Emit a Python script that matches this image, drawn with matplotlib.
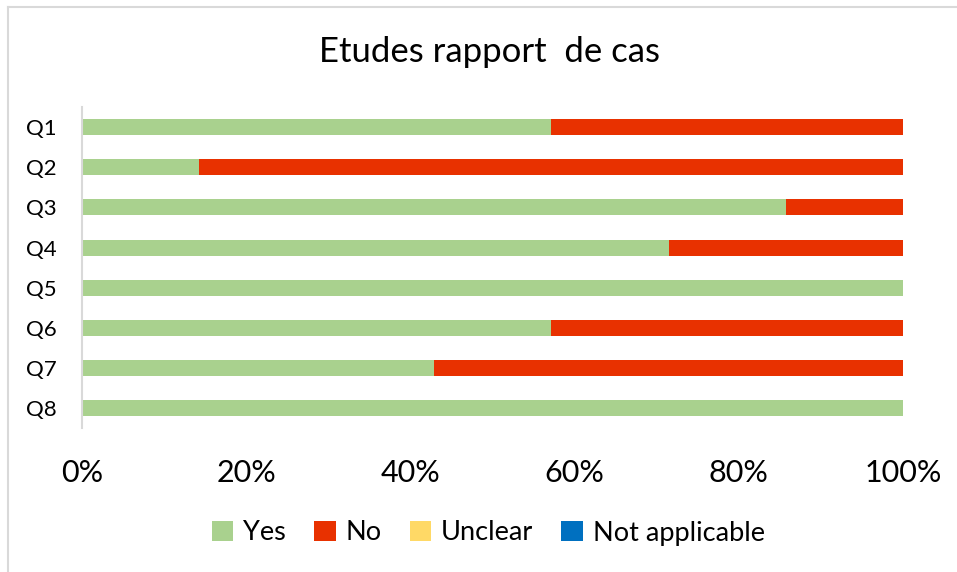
import matplotlib.pyplot as plt
import numpy as np

plt.rcParams['font.family'] = ['Lato', 'DejaVu Sans']

questions = ['Q1', 'Q2', 'Q3', 'Q4', 'Q5', 'Q6', 'Q7', 'Q8']
# nombre d'etudes (7 au total) par reponse
yes = [4, 1, 6, 5, 7, 4, 3, 7]
no = [3, 6, 1, 2, 0, 3, 4, 0]
unclear = [0, 0, 0, 0, 0, 0, 0, 0]
not_applicable = [0, 0, 0, 0, 0, 0, 0, 0]
x_ticks = [0, 20, 40, 60, 80, 100]

series = [('Yes', yes, '#A9D18E'), ('No', no, '#E83100'),
          ('Unclear', unclear, '#FFD966'), ('Not applicable', not_applicable, '#0070C0')]

total = np.array(yes) + np.array(no) + np.array(unclear) + np.array(not_applicable)

fig = plt.figure(figsize=(9.57, 5.72), dpi=100)
ax = fig.add_axes([0.0857, 0.2517, 0.858, 0.561])

y = np.arange(len(questions))
left = np.zeros(len(questions))
for name, vals, col in series:
    pct = np.array(vals) / total * 100
    ax.barh(y, pct, left=left, height=0.4, color=col, label=name)
    left += pct

ax.set_ylim(len(questions) - 0.5, -0.5)
ax.set_xlim(0, 100)
ax.set_yticks(y)
ax.set_yticklabels(questions, fontsize=16)
ax.set_xticks(x_ticks)
ax.set_xticklabels([f'{t}%' for t in x_ticks], fontsize=22)
ax.tick_params(axis='y', length=0, pad=18)
ax.tick_params(axis='x', length=0, pad=22)
for s in ['top', 'right', 'bottom']:
    ax.spines[s].set_visible(False)
ax.spines['left'].set_color('#D9D9D9')
ax.spines['left'].set_linewidth(1.5)

fig.text(0.511, 1 - 52 / 572, 'Etudes rapport  de cas', fontsize=25,
         ha='center', va='center')

fig.legend(loc='center', bbox_to_anchor=(0.51, 1 - 533 / 572), ncol=4,
           frameon=False, fontsize=19.5, handlelength=0.8, handleheight=0.8,
           handletextpad=0.35, columnspacing=1.05)

# bordure du graphique
fig.add_artist(plt.Line2D([8 / 957, 1], [1 - 7 / 572, 1 - 7 / 572], color='#D9D9D9', lw=1.5))
fig.add_artist(plt.Line2D([8 / 957, 8 / 957], [0, 1 - 7 / 572], color='#D9D9D9', lw=1.5))

fig.savefig('out.png', dpi=100)
